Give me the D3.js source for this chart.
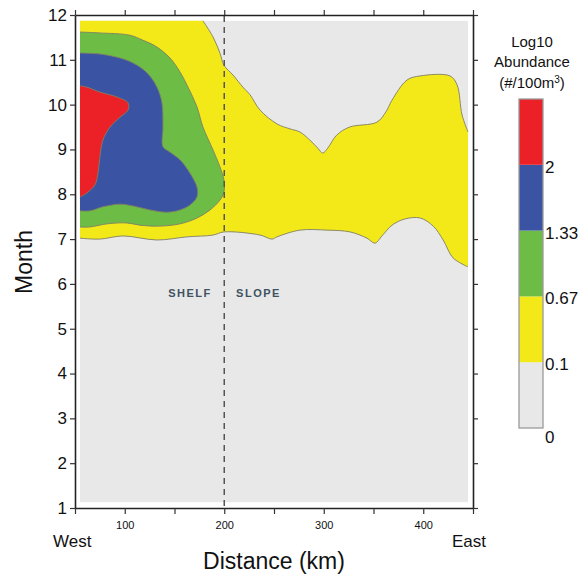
<!DOCTYPE html>
<html>
<head>
<meta charset="utf-8">
<script src="https://cdn.jsdelivr.net/npm/d3@7"></script>
<style>
    body { margin: 0; background: #fff; }
    svg text { font-family: "Liberation Sans", Arial, sans-serif; fill: #111; }
</style>
</head>
<body>
<div id="chart"></div>
<script>
// axis values
var kmDomain = [50, 450];
var monthDomain = [1, 12];
var kmTicks = [50, 100, 150, 200, 250, 300, 350, 400, 450];
var kmTickLabels = [100, 200, 300, 400];
var monthTicks = [1, 2, 3, 4, 5, 6, 7, 8, 9, 10, 11, 12];

// extent of the gridded field inside the frame
var fieldKm = [55, 445];
var fieldMonth = [1.13, 11.87];
var shelfBreakKm = 200;

// legend levels (log10 abundance)
var levelBreaks = [0, 0.1, 0.67, 1.33, 2];
var levelColors = ["#e8e8e8", "#f3e919", "#6cbc45", "#3a53a3", "#ec2027"];

// contour lines, [km, month]
var contour010Top = [[178.6, 11.87], [188.7, 11.51], [195.7, 11.15], [199.7, 10.88], [208.8, 10.66],
    [218.8, 10.39], [225.9, 10.22], [235.9, 9.88], [253, 9.57], [266, 9.46], [276, 9.39],
    [286, 9.21], [294, 9.03], [299, 8.92], [304, 9.03], [313, 9.32], [326, 9.5], [353.5, 9.61],
    [362.5, 9.84], [368.6, 10.1], [383.7, 10.55], [396.7, 10.64], [426.9, 10.64], [434, 10.44],
    [439, 9.77], [445, 9.39]];
var contour010Bottom = [[445, 6.38], [430, 6.58], [420, 6.98], [410, 7.29], [397, 7.47], [381.7, 7.45],
    [368.6, 7.31], [358.5, 7.07], [351.5, 6.91], [343.5, 7.02], [326.4, 7.16], [303.3, 7.2],
    [276, 7.2], [253, 7.05], [248, 7.0], [236, 7.09], [199.7, 7.16], [188.7, 7.09], [162.6, 7.05],
    [132.4, 6.98], [98.2, 7.07], [75, 7.0], [55, 7.02]];
var contour067 = [[55, 11.62], [75, 11.6], [105, 11.55], [118, 11.44], [132, 11.29], [145.5, 11.04],
    [155.5, 10.73], [163.6, 10.39], [172.6, 9.95], [178.6, 9.5], [188.7, 8.99], [195.7, 8.61],
    [199.7, 8.32], [199.7, 8.05], [195.7, 7.87], [185.7, 7.65], [172.6, 7.47], [155.5, 7.34],
    [135.4, 7.29], [115.3, 7.31], [102.3, 7.36], [82.2, 7.34], [65, 7.27], [55, 7.27]];
var contour133 = [[55, 11.15], [75, 11.13], [95.2, 11.04], [108.3, 10.93], [122.4, 10.71], [132.4, 10.39],
    [137.4, 10.04], [138.4, 9.5], [138.4, 9.06], [145.5, 8.94], [155.5, 8.77], [165.6, 8.47],
    [172.6, 8.16], [172.6, 7.94], [165.6, 7.76], [155.5, 7.65], [142.5, 7.6], [125.4, 7.65],
    [108.3, 7.74], [95.2, 7.78], [78.1, 7.72], [65, 7.63], [55, 7.63]];
var contour200 = [[55, 10.42], [62, 10.39], [75, 10.28], [92.2, 10.17], [103.3, 10.04], [103.3, 9.88],
    [95.2, 9.72], [85.2, 9.5], [78.1, 9.21], [75, 8.83], [73.1, 8.47], [70.1, 8.21], [62, 8.03],
    [55, 7.94]];

var W = 587, H = 575;
var plot = {left: 75, right: 473, top: 15, bottom: 508};

var svg = d3.select('#chart').append('svg')
    .attr('width', W)
    .attr('height', H);

var x = d3.scaleLinear().domain(kmDomain).range([plot.left, plot.right]);
var y = d3.scaleLinear().domain(monthDomain).range([plot.bottom, plot.top]);

var line = d3.line()
    .x(function(d) { return x(d[0]); })
    .y(function(d) { return y(d[1]); })
    .curve(d3.curveCatmullRom.alpha(0.5));

// joins several contour pieces into one closed area
function areaPath(start, pieces) {
    var p = start ? 'M' + x(start[0]) + ',' + y(start[1]) : '';
    pieces.forEach(function(piece, i) {
        var s = line(piece);
        p += (p === '' ? s : 'L' + s.slice(1));
    });
    return p + 'Z';
}

// background field
svg.append('rect')
    .attr('x', x(fieldKm[0]))
    .attr('y', y(fieldMonth[1]))
    .attr('width', x(fieldKm[1]) - x(fieldKm[0]))
    .attr('height', y(fieldMonth[0]) - y(fieldMonth[1]))
    .attr('fill', levelColors[0]);

var levels = [
    {color: levelColors[1], start: [fieldKm[0], fieldMonth[1]], pieces: [contour010Top, contour010Bottom]},
    {color: levelColors[2], start: null, pieces: [contour067]},
    {color: levelColors[3], start: null, pieces: [contour133]},
    {color: levelColors[4], start: null, pieces: [contour200]}
];

levels.forEach(function(lv) {
    svg.append('path')
        .attr('d', areaPath(lv.start, lv.pieces))
        .attr('fill', lv.color);
    lv.pieces.forEach(function(piece) {
        svg.append('path')
            .attr('d', line(piece))
            .attr('fill', 'none')
            .attr('stroke', '#7f7f66')
            .attr('stroke-width', 0.9);
    });
});

// shelf break
svg.append('line')
    .attr('x1', x(shelfBreakKm)).attr('x2', x(shelfBreakKm))
    .attr('y1', plot.top + 1).attr('y2', plot.bottom)
    .attr('stroke', '#555')
    .attr('stroke-width', 1.5)
    .attr('stroke-dasharray', '6,5');

svg.append('text')
    .attr('x', x(165.6)).attr('y', y(5.8))
    .attr('dy', '0.35em')
    .attr('text-anchor', 'middle')
    .style('font-size', '11px').style('font-weight', 'bold').style('letter-spacing', '1.5px')
    .style('fill', '#3e5262')
    .text('SHELF');
svg.append('text')
    .attr('x', x(234.4)).attr('y', y(5.8))
    .attr('dy', '0.35em')
    .attr('text-anchor', 'middle')
    .style('font-size', '11px').style('font-weight', 'bold').style('letter-spacing', '1.5px')
    .style('fill', '#3e5262')
    .text('SLOPE');

// axes
function styleAxis(g, size) {
    g.selectAll('.domain').attr('stroke', '#222').attr('stroke-width', 1.6);
    g.selectAll('.tick line').attr('stroke', '#333').attr('stroke-width', 1.2);
    g.selectAll('.tick text').style('font-size', size).style('fill', '#111')
        .style('font-family', '"Liberation Sans", Arial, sans-serif');
}

svg.append('g')
    .attr('transform', 'translate(' + plot.left + ',0)')
    .call(d3.axisLeft(y).tickValues(monthTicks).tickSize(5).tickSizeOuter(0).tickPadding(3))
    .call(styleAxis, '17px');

svg.append('g')
    .attr('transform', 'translate(' + plot.right + ',0)')
    .call(d3.axisRight(y).tickValues(monthTicks).tickSize(5).tickSizeOuter(0).tickFormat(''))
    .call(styleAxis, '0px');

svg.append('g')
    .attr('transform', 'translate(0,' + plot.bottom + ')')
    .call(d3.axisBottom(x).tickValues(kmTicks).tickSize(6).tickSizeOuter(0).tickPadding(7)
        .tickFormat(function(d) { return kmTickLabels.indexOf(d) >= 0 ? d : ''; }))
    .call(styleAxis, '11px');

svg.append('g')
    .attr('transform', 'translate(0,' + plot.top + ')')
    .call(d3.axisTop(x).tickValues(kmTicks).tickSize(5).tickSizeOuter(0).tickFormat(''))
    .call(styleAxis, '0px');

// axis titles
svg.append('text')
    .attr('x', 53).attr('y', 547)
    .style('font-size', '17px')
    .text('West');
svg.append('text')
    .attr('x', 452).attr('y', 547)
    .style('font-size', '17px')
    .text('East');
svg.append('text')
    .attr('x', (plot.left + plot.right) / 2).attr('y', 569)
    .attr('text-anchor', 'middle')
    .style('font-size', '23px')
    .text('Distance (km)');
svg.append('text')
    .attr('transform', 'translate(32,262) rotate(-90)')
    .attr('text-anchor', 'middle')
    .style('font-size', '23px')
    .text('Month');

// legend
var legendX = 519, legendW = 24;
var ly = d3.scaleLinear().domain([0, levelBreaks.length]).range([428, 99]);
var legend = svg.append('g');

legend.selectAll('rect.seg')
    .data(levelColors)
    .enter().append('rect')
    .attr('class', 'seg')
    .attr('x', legendX)
    .attr('y', function(d, i) { return ly(i + 1); })
    .attr('width', legendW)
    .attr('height', function(d, i) { return ly(i) - ly(i + 1); })
    .attr('fill', function(d) { return d; });

legend.append('rect')
    .attr('x', legendX).attr('y', ly(levelBreaks.length))
    .attr('width', legendW).attr('height', ly(0) - ly(levelBreaks.length))
    .attr('fill', 'none')
    .attr('stroke', '#9a9a9a')
    .attr('stroke-width', 1.3);

legend.selectAll('text.lab')
    .data(levelBreaks)
    .enter().append('text')
    .attr('class', 'lab')
    .attr('x', legendX + legendW + 2)
    .attr('y', function(d, i) { return ly(i) + (i === 0 ? 9 : 2); })
    .attr('dy', '0.35em')
    .style('font-size', '17px')
    .text(function(d) { return d; });

var titleX = 532;
legend.append('text').attr('x', titleX).attr('y', 47).attr('text-anchor', 'middle')
    .style('font-size', '15px').text('Log10');
legend.append('text').attr('x', titleX).attr('y', 67).attr('text-anchor', 'middle')
    .style('font-size', '15px').text('Abundance');
var t3 = legend.append('text').attr('x', titleX).attr('y', 88).attr('text-anchor', 'middle')
    .style('font-size', '15px');
t3.append('tspan').text('(#/100m');
t3.append('tspan').attr('dy', '-5').style('font-size', '10px').text('3');
t3.append('tspan').attr('dy', '5').text(')');
</script>
</body>
</html>
